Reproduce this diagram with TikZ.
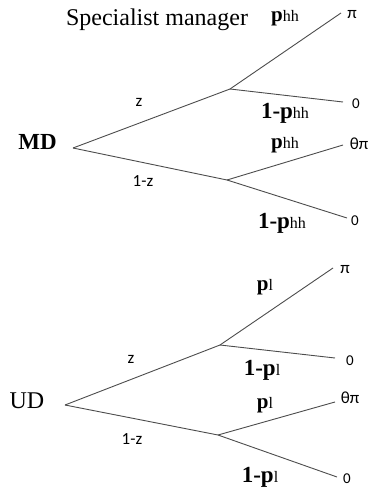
\documentclass[tikz,border=0pt]{standalone}
\usepackage{fontspec}
\setmainfont{Liberation Serif}
\newfontfamily\lblfont{Carlito}
\newcommand{\subtxt}[1]{{\mdseries\fontsize{16}{18}\selectfont #1}}
\begin{document}
\begin{tikzpicture}[x=1pt,y=-1pt,
  branch/.style={draw=black!70,line width=0.9pt},
  prob/.style={inner sep=0pt,font=\fontsize{23}{25}\selectfont\bfseries},
  probs/.style={inner sep=0pt,font=\fontsize{21}{23}\selectfont\bfseries},
  small/.style={inner sep=0pt,font=\lblfont\fontsize{17}{19}\selectfont},
  zero/.style={inner sep=0pt,font=\lblfont\fontsize{15}{17}\selectfont}]
\useasboundingbox (0,0) rectangle (373,487);
% ---------- top tree ----------
\node[inner sep=0pt,font=\fontsize{24}{26}\selectfont] (title) at (157,20) {Specialist manager};
\node[inner sep=0pt,font=\fontsize{23}{25}\selectfont\bfseries] (md) at (37.5,142) {MD};
\coordinate (r1) at (73,148);
\coordinate (a1) at (230,89);
\coordinate (b1) at (227,180);
\coordinate (a1u) at (341,13);
\coordinate (a1d) at (343,102);
\coordinate (b1u) at (343,145);
\coordinate (b1d) at (347,218);
\draw[branch] (r1) -- (a1);
\draw[branch] (r1) -- (b1);
\draw[branch] (a1) -- (a1u);
\draw[branch] (a1) -- (a1d);
\draw[branch] (b1) -- (b1u);
\draw[branch] (b1) -- (b1d);
\node[small] (pi1) at (352,15) {π};
\node[zero] (z01) at (356,104) {0};
\node[small] (tp1) at (359,144) {θπ};
\node[zero] (z02) at (355,221) {0};
\node[small] (z1) at (139,102) {z};
\node[small] (nz1) at (143,181) {1-z};
\node[probs] (p1) at (285,18) {p\subtxt{hh}};
\node[prob] (q1) at (285,113) {1-p\subtxt{hh}};
\node[probs] (p2) at (285,145) {p\subtxt{hh}};
\node[prob] (q2) at (282,223) {1-p\subtxt{hh}};
% ---------- bottom tree ----------
\node[inner sep=0pt,font=\fontsize{24}{26}\selectfont] (ud) at (27,401) {UD};
\coordinate (r2) at (65,405);
\coordinate (a2) at (220,345);
\coordinate (b2) at (218,435);
\coordinate (a2u) at (333,268);
\coordinate (a2d) at (335,358);
\coordinate (b2u) at (335,402);
\coordinate (b2d) at (337,477);
\draw[branch] (r2) -- (a2);
\draw[branch] (r2) -- (b2);
\draw[branch] (a2) -- (a2u);
\draw[branch] (a2) -- (a2d);
\draw[branch] (b2) -- (b2u);
\draw[branch] (b2) -- (b2d);
\node[small] (pi2) at (345,270) {π};
\node[zero] (z03) at (350,361) {0};
\node[small] (tp2) at (350,398) {θπ};
\node[zero] (z04) at (347,479) {0};
\node[small] (z2) at (131,359) {z};
\node[small] (nz2) at (132,439) {1-z};
\node[probs] (p3) at (265,287) {p\subtxt{l}};
\node[prob] (q3) at (262,370) {1-p\subtxt{l}};
\node[probs] (p4) at (265,405) {p\subtxt{l}};
\node[prob] (q4) at (260,477) {1-p\subtxt{l}};
\end{tikzpicture}
\end{document}
